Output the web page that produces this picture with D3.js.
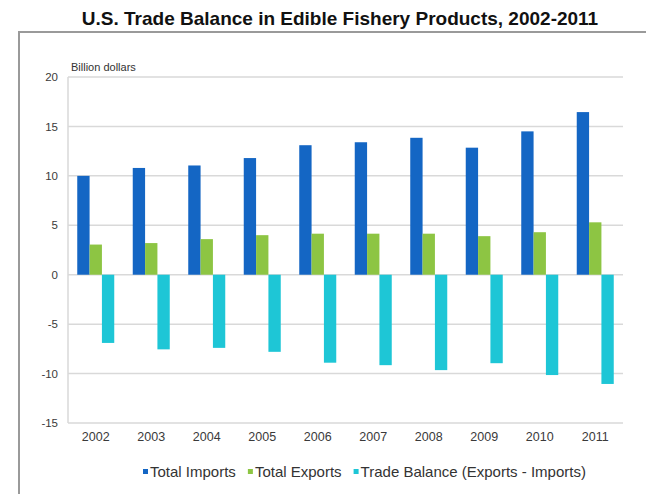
<html>
<head>
  <meta charset="utf-8">
  <title>US trade balance fishery</title>
  <script src="https://cdn.jsdelivr.net/npm/d3@7"></script>
  <style>
    body { margin: 0; background: white; }
    text { font-family: 'Liberation Sans', Arial, sans-serif; }
    .grid line { stroke: #d9d9d9; stroke-width: 1.5; }
    .tick text { fill: #3a3a3a; }
  </style>
</head>
<body>
<script>

var years = ['2002','2003','2004','2005','2006','2007','2008','2009','2010','2011'];
var imports = [10.0, 10.8, 11.05, 11.8, 13.1, 13.4, 13.85, 12.85, 14.5, 16.45];
var exports = [3.05, 3.2, 3.6, 4.0, 4.15, 4.15, 4.15, 3.9, 4.3, 5.3];
var balance = [-6.9, -7.55, -7.4, -7.8, -8.9, -9.15, -9.65, -8.95, -10.15, -11.05];
var seriesNames = ['Total Imports', 'Total Exports', 'Trade Balance (Exports - Imports)'];
var seriesColors = ['#1466c4', '#8dc543', '#1ec6d6'];
var yTicks = [-15, -10, -5, 0, 5, 10, 15, 20];

var W = 646, H = 494;
var plotL = 68, plotR = 623, plotT = 77, plotB = 423;

var svg = d3.select('body').append('svg')
  .attr('width', W)
  .attr('height', H);

// frame around the chart (runs off the right / bottom edge)
svg.append('rect')
  .attr('x', 19).attr('y', 32)
  .attr('width', 700).attr('height', 520)
  .attr('fill', 'none')
  .attr('stroke', '#9a9a9a')
  .attr('stroke-width', 2);

svg.append('text')
  .attr('x', 340).attr('y', 25)
  .attr('text-anchor', 'middle')
  .style('font-size', '19px')
  .style('font-weight', 'bold')
  .attr('fill', '#111')
  .text('U.S. Trade Balance in Edible Fishery Products, 2002-2011');

var x0 = d3.scaleBand().domain(years).range([plotL, plotR]);
var x1 = d3.scaleBand().domain(seriesNames).range([0, x0.bandwidth()]).paddingOuter(0.75);
var y = d3.scaleLinear().domain([-15, 20]).range([plotB, plotT]);

// horizontal grid
svg.append('g')
  .attr('class', 'grid')
  .selectAll('line')
  .data(yTicks)
  .enter().append('line')
  .attr('x1', plotL).attr('x2', plotR)
  .attr('y1', function(d) { return y(d); })
  .attr('y2', function(d) { return y(d); });

svg.append('line')
  .attr('x1', plotL).attr('x2', plotL)
  .attr('y1', plotT).attr('y2', plotB)
  .attr('stroke', '#d9d9d9').attr('stroke-width', 1.5);

var yAxis = svg.append('g')
  .attr('transform', 'translate(' + (plotL - 8) + ',0)')
  .call(d3.axisLeft(y).tickValues(yTicks).tickSize(0).tickPadding(2)
    .tickFormat(function(d) { return String(d); }));
yAxis.select('.domain').remove();
yAxis.selectAll('text').style('font-size', '11.5px').style('font-family', "'Liberation Sans', Arial, sans-serif");

var xAxis = svg.append('g')
  .attr('transform', 'translate(0,' + (plotB + 9) + ')')
  .call(d3.axisBottom(x0).tickSize(0).tickPadding(0));
xAxis.select('.domain').remove();
xAxis.selectAll('text').style('font-size', '12.5px').style('font-family', "'Liberation Sans', Arial, sans-serif");

svg.append('text')
  .attr('x', 71).attr('y', 71)
  .style('font-size', '11px')
  .attr('fill', '#333')
  .text('Billion dollars');

var allSeries = [imports, exports, balance];
allSeries.forEach(function(vals, s) {
  svg.append('g').selectAll('rect')
    .data(vals)
    .enter().append('rect')
    .attr('x', function(d, i) { return x0(years[i]) + x1(seriesNames[s]); })
    .attr('width', x1.bandwidth())
    .attr('y', function(d) { return y(Math.max(0, d)); })
    .attr('height', function(d) { return Math.abs(y(d) - y(0)); })
    .attr('fill', seriesColors[s]);
});

// legend
var lg = svg.append('g').attr('transform', 'translate(143,472)');
var lx = 0;
seriesNames.forEach(function(name, i) {
  lg.append('rect')
    .attr('x', lx).attr('y', -3)
    .attr('width', 5).attr('height', 5)
    .attr('fill', seriesColors[i]);
  var t = lg.append('text')
    .attr('x', lx + 7).attr('y', 5)
    .style('font-size', '15px')
    .attr('fill', '#333')
    .text(name);
  lx += 7 + t.node().getComputedTextLength() + 12;
});

</script>
</body>
</html>
